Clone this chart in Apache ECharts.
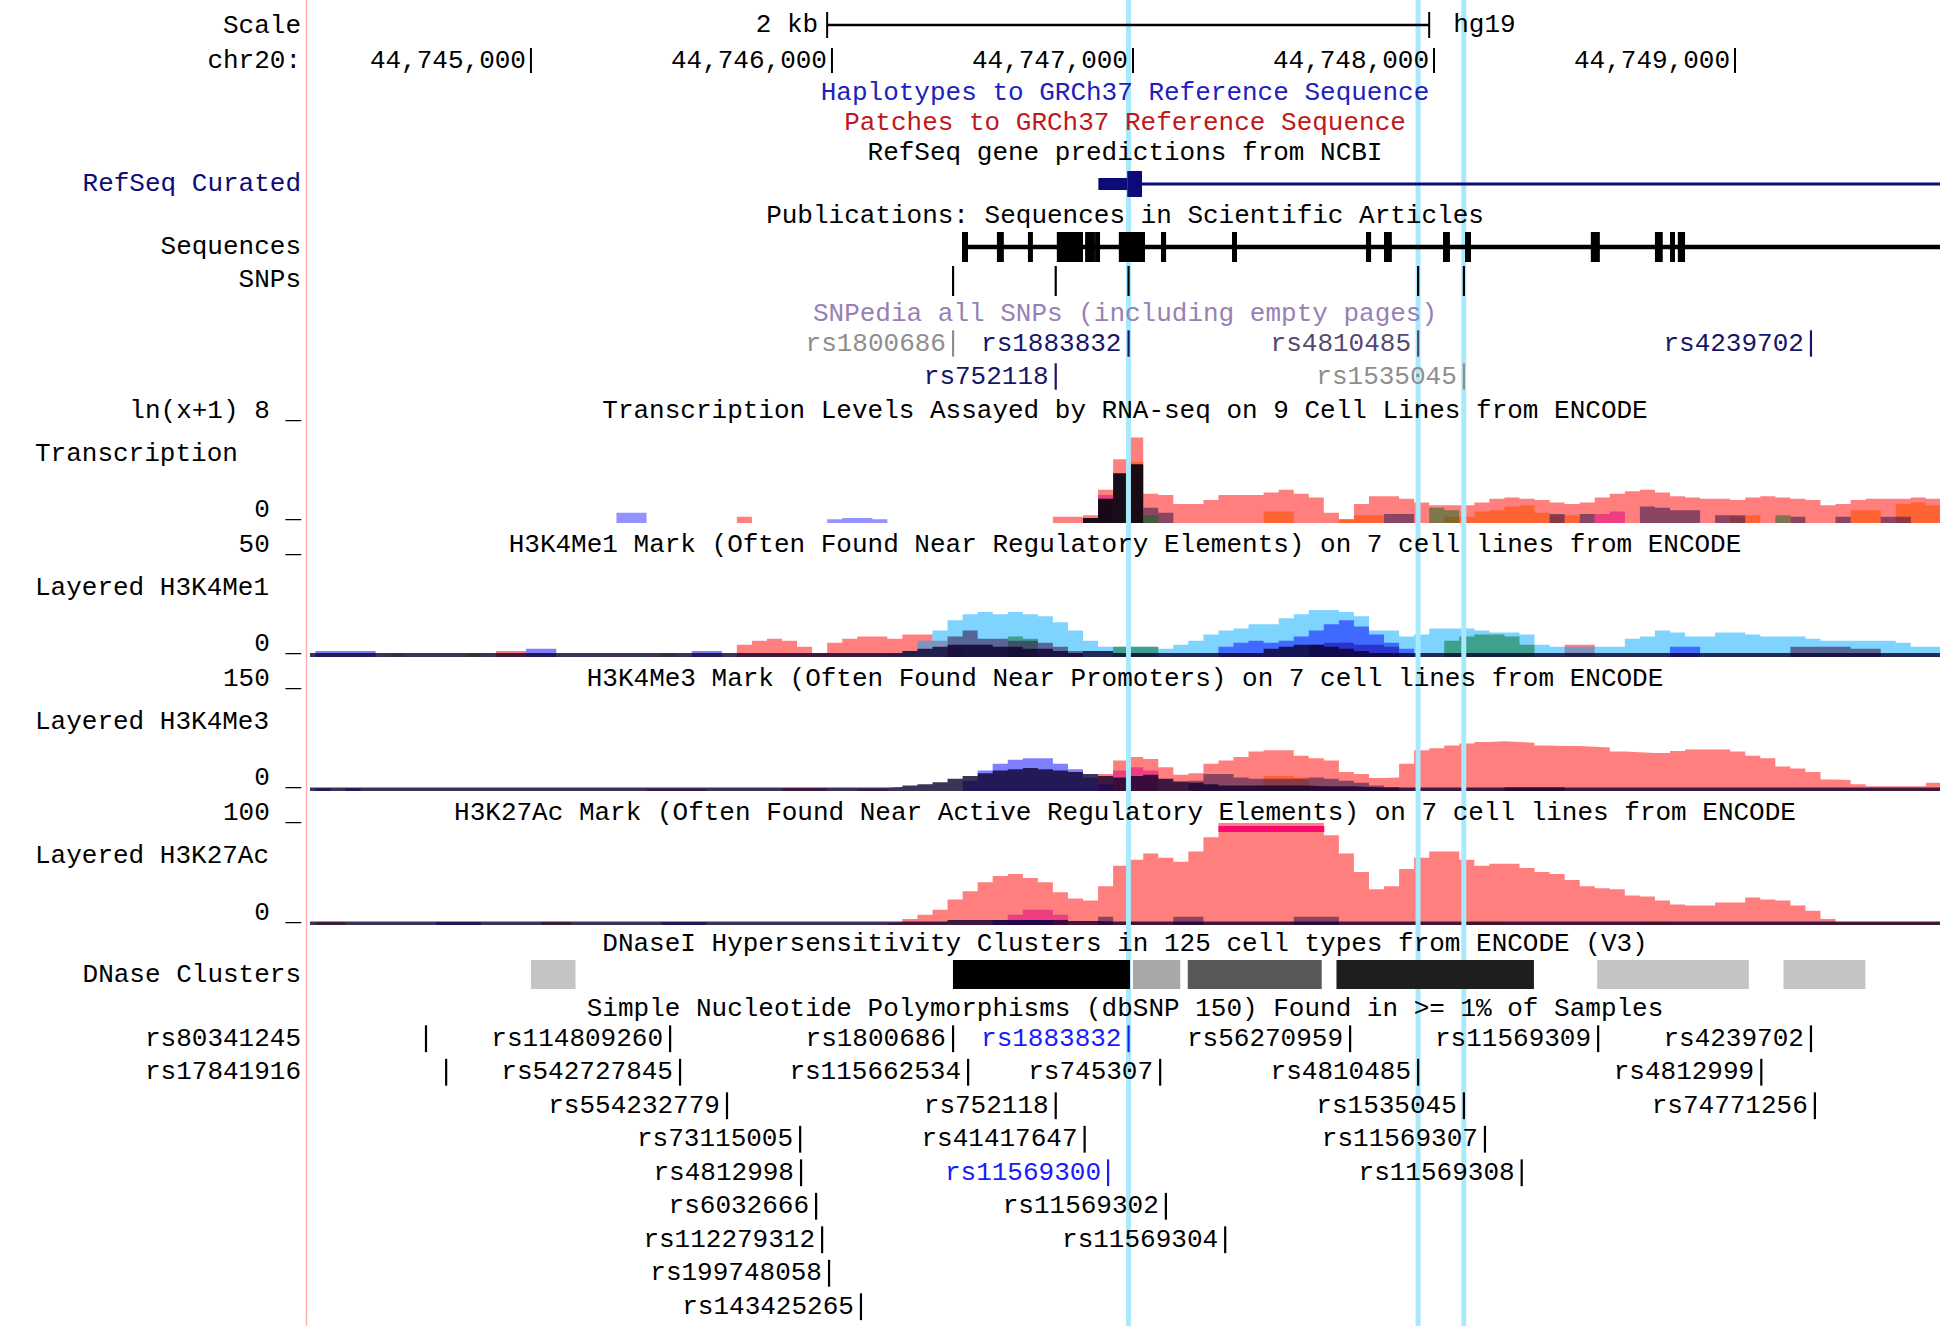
<!DOCTYPE html>
<html><head><meta charset="utf-8">
<script src="https://cdn.jsdelivr.net/npm/echarts@6/dist/echarts.min.js"></script>
<style>html,body{margin:0;padding:0;background:#fff}#c{width:1946px;height:1326px}</style>
</head><body><div id="c"></div>
<script>
// ===================== DATA =====================
const CHROM = 'chr20:', ASSEMBLY = 'hg19';
const VIEW_START = 44744266, VIEW_END = 44749681;
const RULER_TICKS = [44745000, 44746000, 44747000, 44748000, 44749000];
const SCALE_BAR = [44745984, 44747984];
const SCALE_LABEL = '2 kb';
const HIGHLIGHTS = [44746985, 44747947, 44748099];

// RefSeq Curated (CD40): txStart, cdsStart, exon1 end, txEnd
const GENE = [44746885, 44746981, 44747030, 44758384];

// Publications: sequences in articles
const PUB_SEQ_SPAN = [44746432, 44758384];
const PUB_SEQ_BLOCKS = [
  [44746432,44746452],[44746548,44746571],[44746651,44746664],[44746747,44746834],
  [44746841,44746854],[44746857,44746867],[44746874,44746884],[44746953,44747040],
  [44747093,44747110],[44747329,44747345],[44747774,44747791],[44747834,44747860],
  [44748030,44748053],[44748103,44748123],[44748521,44748551],[44748734,44748760],
  [44748784,44748797],[44748810,44748834]];
const PUB_SNPS = [44746402, 44746743, 44746985, 44747947, 44748099];

// SNPedia
const SNPEDIA_NAMES = ['rs1800686','rs1883832','rs4810485','rs4239702','rs752118','rs1535045'];
const SNPEDIA_POS   = [44746402, 44746985, 44747947, 44749252, 44746743, 44748099];
const SNPEDIA_ROW   = [0, 0, 0, 0, 1, 1];
const SNPEDIA_KIND  = ['empty','page','mid','page','page','empty'];

// Signal tracks: values per 50 bp bin
const BIN_START = 44744234, BIN_SIZE = 50, N_BINS = 109;
const TRACK_MAX = [8, 50, 150, 100];

const txRed = [
  0,0,0,0,0,0,0,0,0,0,
  0,0,0,0,0,0,0,0,0,0,
  0,0,0,0,0,0,0,0,0,0.5,
  0,0,0,0,0,0,0,0,0,0,
  0,0,0,0,0,0,0,0,0,0,
  0.5,0.5,0.6,2.6,5.0,6.7,2.3,2.2,1.5,1.5,
  1.8,2.2,2.2,2.2,2.4,2.6,2.3,2.0,0.8,0.3,
  1.5,2.1,2.1,1.9,1.6,1.4,1.4,1.4,1.6,1.9,
  2.0,1.9,1.8,1.6,1.5,1.6,2.0,2.3,2.5,2.6,
  2.4,2.1,2.0,1.9,1.9,1.8,2.0,2.1,2.0,1.9,
  1.8,1.4,1.5,1.8,1.9,1.9,1.9,2.0,1.9];
const txOrange = [[55,4.8],[64,0.9],[65,0.9],[69,0.3],[70,0.6],[71,0.6],[76,0.5],[77,0.5],[78,0.9],[79,1.0],[80,1.3],[81,1.4],[82,0.8],[83,0.6],[84,0.6],[95,0.5],[96,0.6],[103,1.0],[104,1.0],[106,1.5],[107,1.6],[108,1.4]];
const txMauve = [[56,1.2],[57,0.8],[72,0.7],[73,0.7],[83,0.7],[85,0.7],[89,1.3],[90,1.2],[91,1.0],[92,1.0],[94,0.6],[95,0.6],[99,0.5],[102,0.5],[105,0.5],[106,0.5]];
const txGreen = [[56,0.6],[75,1.2],[76,1.0],[98,0.6]];
const txMagenta = [[53,2.2],[86,0.7],[87,0.9]];
const txViolet = [[21,0.8],[22,0.8],[35,0.3],[36,0.4],[37,0.4],[38,0.3]];
const txDark = [[52,0.4],[53,1.9],[54,3.9],[55,4.6]];

const h1LightBlue = [
  0,0,0,0,0,0,0,0,0,0,
  0,0,0,0,0,0,0,0,0,0,
  0,0,0,0,0,0,0,0,0,0,
  0,0,0,0,0,0,0,0,1,2,
  3,8,13,18,21,22,21,22,21,20,
  17,13,8,5,5,5,5,4,6,8,
  11,13,14,16,16,19,21,23,23,22,
  20,13,13,10,11,14,14,14,13,12,
  12,11,6,5,5,5,5,5,9,10,
  13,12,10,10,12,12,11,10,10,10,
  9,8,8,8,8,8,7,5,5];
const h1Red = [[13,3],[14,3],[29,6],[30,8],[31,9],[32,8],[33,5],[34,2],[35,7],[36,9],[37,10],[38,10],[39,9],[40,11],[41,11],[42,8],[43,4],[84,6],[85,6]];
const h1Blue = [[1,3],[2,3],[3,3],[4,3],[15,4],[16,4],[26,3],[27,3],[61,5],[62,7],[63,8],[64,7],[65,8],[66,10],[67,13],[68,16],[69,18],[70,15],[71,11],[72,7],[73,4],[91,5],[92,5]];
const h1Mauve = [[43,10],[44,13],[45,9],[46,9],[47,8],[48,8],[49,7],[50,5],[51,3],[67,6],[68,7],[69,7],[70,6],[71,6],[72,5],[99,5],[100,5],[101,5],[102,5],[103,4],[104,4]];
const h1Green = [[47,10],[48,9],[54,5],[55,5],[56,5],[76,8],[77,10],[78,11],[79,11],[80,10],[81,6]];
const h1Yellow = [[6,2],[11,2],[24,2]];
const h1Floor = 2;
const h1Dark = [[40,3],[41,4],[42,5],[43,6],[44,6],[45,6],[46,5],[47,5],[48,4],[49,4],[50,3],[52,3],[53,3],[64,4],[65,5],[66,6],[67,6],[68,5],[69,4],[70,3]];

const h3Red = [
  0,0,0,0,0,0,0,0,0,0,
  0,0,0,0,0,0,0,0,0,0,
  0,0,0,3,3,3,3,0,0,0,
  0,0,4,4,4,0,0,3,3,0,
  0,0,0,0,0,0,0,0,0,0,
  0,0,0,25,45,50,47,35,24,26,
  40,45,50,58,60,60,52,48,45,28,
  25,19,20,40,60,63,67,70,72,73,
  72,71,67,66,66,65,64,58,57,56,
  56,59,61,61,61,58,52,48,36,33,
  28,17,16,10,7,7,7,7,12];
const h3Blue = [[1,4],[3,4],[44,15],[45,30],[46,40],[47,46],[48,48],[49,48],[50,40],[51,32],[52,20],[53,10]];
const h3Floor = 5;
const h3Dark = [[39,6],[40,8],[41,10],[42,13],[43,18],[44,22],[45,26],[46,30],[47,32],[48,34],[49,32],[50,30],[51,28],[52,25],[53,22],[54,20],[55,22],[56,24],[57,18],[58,14],[59,12],[60,10],[61,8],[62,8],[63,8],[64,8],[65,8],[66,8],[67,7],[68,7],[69,7],[70,6]];
const h3Mauve = [[59,15],[60,25],[61,25],[62,20],[63,18],[64,18],[65,18],[66,18],[67,20],[68,18],[69,15],[70,12],[71,8],[72,6],[80,6],[81,6],[82,6],[83,6]];
const h3Orange = [[64,22],[65,22],[66,20]];
const h3Magenta = [[54,30],[55,35],[56,30]];

const h27Red = [
  0,0,0,0,0,0,0,0,0,0,
  0,0,0,0,0,0,0,0,0,0,
  0,0,0,0,0,0,0,0,0,0,
  0,0,0,0,0,0,0,0,0,2,
  6,10,15,25,33,42,48,50,46,42,
  32,26,24,38,58,64,70,66,62,72,
  86,100,100,100,100,100,100,100,88,70,
  52,35,38,55,66,72,72,64,58,60,
  60,56,52,50,44,38,36,35,29,28,
  24,20,19,19,22,22,27,25,24,19,
  14,6,3,3,3,3,3,3,3];
const h27Magenta = [[47,10],[48,15],[49,15],[50,10]];
const h27Mauve = [[53,8],[58,8],[59,8],[66,8],[67,8],[68,8]];
const h27Orange = [[1,3],[2,3],[16,3],[17,3],[77,3],[78,3],[79,3],[89,3],[90,3]];
const h27Blue = [[9,3],[10,3],[11,3],[24,3],[25,3],[26,3],[46,5],[47,5],[48,5],[49,5]];
const h27Floor = 3.5;
const h27Dark = [[43,5],[44,5],[45,5],[46,5],[47,5],[48,5],[49,5],[50,5],[51,4],[52,4]];

// DNase clusters: start, end, score (0-1000)
const DNASE_START = [44745000, 44746402, 44747000, 44747182, 44747676, 44748542, 44749161];
const DNASE_END   = [44745148, 44746990, 44747157, 44747627, 44748332, 44749046, 44749433];
const DNASE_SCORE = [231, 1000, 341, 655, 882, 231, 231];

// dbSNP 150 common SNPs: name, position, packed row, class
const DBSNP_NAMES = ['rs80341245','rs114809260','rs1800686','rs1883832','rs56270959','rs11569309','rs4239702',
  'rs17841916','rs542727845','rs115662534','rs745307','rs4810485','rs4812999',
  'rs554232779','rs752118','rs1535045','rs74771256',
  'rs73115005','rs41417647','rs11569307',
  'rs4812998','rs11569300','rs11569308',
  'rs6032666','rs11569302',
  'rs112279312','rs11569304',
  'rs199748058',
  'rs143425265'];
const DBSNP_POS = [44744651,44745462,44746402,44746985,44747721,44748545,44749252,
  44744718,44745495,44746452,44747090,44747947,44749087,
  44745651,44746743,44748099,44749265,
  44745894,44746839,44748169,
  44745897,44746917,44748291,
  44745947,44747109,
  44745967,44747306,
  44745990,
  44746096];
const DBSNP_ROW = [0,0,0,0,0,0,0, 1,1,1,1,1,1, 2,2,2,2, 3,3,3, 4,4,4, 5,5, 6,6, 7, 8];
const DBSNP_CLASS = ['o','o','o','b','o','o','o', 'o','o','o','o','o','o', 'o','o','o','o', 'o','o','o', 'o','b','o', 'o','o', 'o','o', 'o', 'o'];

// ===================== STYLE / LAYOUT =====================
const FONT = '26px "Liberation Mono", "DejaVu Sans Mono", monospace';
const CHAR_W = 15.6;
const GRID_L = 310, GRID_R = 6, LABEL_RIGHT = 301, CENTER_X = 1125;
const NAVY = '#0c0c78';
const LAYER = {
  red: 'rgba(255,0,0,0.5)', lightBlue: 'rgba(0,168,255,0.5)', blue: 'rgba(0,0,255,0.5)',
  violet: 'rgba(40,40,255,0.5)', mauve: 'rgba(60,30,80,0.6)', green: 'rgba(0,110,30,0.5)',
  orange: 'rgba(255,80,0,0.6)', magenta: 'rgba(220,0,130,0.5)', yellow: 'rgba(255,200,0,0.6)',
  dark: 'rgba(12,0,45,0.8)', txDark: 'rgba(8,4,18,0.93)'
};
const SNPEDIA_COL = {empty: '#8e8e8e', page: '#15156a', mid: '#54486e'};
const DBSNP_COL = {o: '#000000', b: '#1a1aff'};

const GRIDS = [
  [12, 26],    // 0 scale bar
  [48, 25],    // 1 ruler
  [171, 26],   // 2 refseq
  [232, 30],   // 3 pub sequences
  [266, 30],   // 4 pub snps
  [327, 66],   // 5 snpedia
  [421, 102],  // 6 transcription
  [555, 102],  // 7 H3K4Me1
  [689, 102],  // 8 H3K4Me3
  [823, 102],  // 9 H3K27Ac
  [960, 29],   // 10 DNase
  [1022, 301.5], // 11 dbSNP
  [0, 1326]    // 12 highlight
];
const YRANGE = {5: [0, 2, true], 6: [0, TRACK_MAX[0]], 7: [0, TRACK_MAX[1]], 8: [0, TRACK_MAX[2]], 9: [0, TRACK_MAX[3]], 11: [0, 9, true]};

// ===================== BUILD =====================
function dense(pairs, floor) {
  const a = new Array(N_BINS).fill(floor || 0);
  pairs.forEach(p => { a[p[0]] = Math.max(p[1], floor || 0); });
  return a;
}
function areaSeries(vals, gi, color) {
  const data = vals.map((v, i) => [BIN_START + i * BIN_SIZE, v]);
  data.push([BIN_START + vals.length * BIN_SIZE, vals[vals.length - 1]]);
  return {type: 'line', xAxisIndex: gi, yAxisIndex: gi, data, step: 'end', symbol: 'none', showSymbol: false,
    lineStyle: {width: 0, opacity: 0}, areaStyle: {color, opacity: 1}, silent: true, z: 1, clip: true};
}
function txt(text, x, y, align, fill) {
  return {type: 'text', x, y, silent: true,
    style: {text, font: FONT, fill: fill || '#000', textAlign: align, textVerticalAlign: 'middle', align: align, verticalAlign: 'middle'}};
}
function clampX(cs, x) { return Math.max(cs.x, Math.min(cs.x + cs.width, x)); }
function custom(gi, data, renderItem, z) {
  return {type: 'custom', xAxisIndex: gi, yAxisIndex: gi, data, renderItem, silent: true, z: z || 3};
}
const fmt = n => n.toLocaleString('en-US');

const series = [];
// Signal tracks
[[txRed,'red'],[dense(txOrange),'orange'],[dense(txMauve),'mauve'],[dense(txGreen),'green'],[dense(txMagenta),'magenta'],[dense(txViolet),'violet'],[dense(txDark),'txDark']]
  .forEach(([v, c]) => series.push(areaSeries(v, 6, LAYER[c])));
[[dense(h1Red),'red'],[h1LightBlue,'lightBlue'],[dense(h1Green),'green'],[dense(h1Mauve),'mauve'],[dense(h1Blue),'blue'],[dense(h1Yellow),'yellow'],[dense(h1Dark, h1Floor),'dark']]
  .forEach(([v, c]) => series.push(areaSeries(v, 7, LAYER[c])));
[[h3Red,'red'],[dense(h3Magenta),'magenta'],[dense(h3Orange),'orange'],[dense(h3Mauve),'mauve'],[dense(h3Blue),'blue'],[dense(h3Dark, h3Floor),'dark']]
  .forEach(([v, c]) => series.push(areaSeries(v, 8, LAYER[c])));
[[h27Red,'red'],[dense(h27Magenta),'magenta'],[dense(h27Mauve),'mauve'],[dense(h27Orange),'orange'],[dense(h27Blue),'blue'],[dense(h27Dark, h27Floor),'dark']]
  .forEach(([v, c]) => series.push(areaSeries(v, 9, LAYER[c])));

// Clipped-value indicator on H3K27Ac
series.push(custom(9, h27Red.map((v, i) => [BIN_START + i * BIN_SIZE, v]), (p, api) => {
  if (api.value(1) < TRACK_MAX[3]) return null;
  const cs = p.coordSys;
  const x0 = clampX(cs, api.coord([api.value(0), 0])[0]);
  const x1 = clampX(cs, api.coord([api.value(0) + BIN_SIZE, 0])[0]);
  return {type: 'rect', shape: {x: x0, y: cs.y + 3, width: x1 - x0 + 0.5, height: 6}, style: {fill: '#fa0a6e'}};
}, 3));

// Highlights
series.push(custom(12, HIGHLIGHTS.map(h => [h, 0]), (p, api) => {
  const x = api.coord([api.value(0), 0])[0], cs = p.coordSys;
  return {type: 'rect', shape: {x: x - 2.5, y: cs.y, width: 5, height: cs.height}, style: {fill: '#a9e9fc'}};
}, 2));

// Scale bar
series.push(custom(0, [[SCALE_BAR[0], SCALE_BAR[1]]], (p, api) => {
  const cs = p.coordSys, x0 = api.coord([api.value(0), 0])[0], x1 = api.coord([api.value(1), 0])[0];
  const cy = cs.y + cs.height / 2;
  return {type: 'group', children: [
    {type: 'rect', shape: {x: x0, y: cy - 1.3, width: x1 - x0, height: 2.6}, style: {fill: '#000'}},
    {type: 'rect', shape: {x: x0 - 1, y: cs.y, width: 2, height: cs.height}, style: {fill: '#000'}},
    {type: 'rect', shape: {x: x1 - 1, y: cs.y, width: 2, height: cs.height}, style: {fill: '#000'}},
    txt(SCALE_LABEL, x0 - 9, cy, 'right'),
    txt(ASSEMBLY, x1 + 24, cy, 'left')
  ]};
}));

// Ruler
series.push(custom(1, RULER_TICKS.map(t => [t, 0]), (p, api) => {
  const cs = p.coordSys, x = api.coord([api.value(0), 0])[0];
  return {type: 'group', children: [
    {type: 'rect', shape: {x: x - 1, y: cs.y, width: 2, height: cs.height}, style: {fill: '#000'}},
    txt(fmt(api.value(0)), x - 5, cs.y + cs.height / 2, 'right')
  ]};
}));

// RefSeq gene
series.push(custom(2, [GENE], (p, api) => {
  const cs = p.coordSys, cy = cs.y + cs.height / 2;
  const X = i => clampX(cs, api.coord([api.value(i), 0])[0]);
  const a = X(0), b = X(1), c = X(2), d = X(3);
  return {type: 'group', children: [
    {type: 'rect', shape: {x: c, y: cy - 1.5, width: d - c, height: 3}, style: {fill: NAVY}},
    {type: 'rect', shape: {x: a, y: cy - 6, width: b - a, height: 12}, style: {fill: NAVY}},
    {type: 'rect', shape: {x: b, y: cs.y, width: c - b, height: cs.height}, style: {fill: NAVY}}
  ]};
}));

// Publication sequences
series.push(custom(3, [PUB_SEQ_SPAN], (p, api) => {
  const cs = p.coordSys, cy = cs.y + cs.height / 2;
  const a = clampX(cs, api.coord([api.value(0), 0])[0]), b = clampX(cs, api.coord([api.value(1), 0])[0]);
  return {type: 'rect', shape: {x: a, y: cy - 2.3, width: b - a, height: 4.6}, style: {fill: '#000'}};
}));
series.push(custom(3, PUB_SEQ_BLOCKS, (p, api) => {
  const cs = p.coordSys;
  const a = api.coord([api.value(0), 0])[0], b = api.coord([api.value(1), 0])[0];
  const w = Math.max(b - a, 5);
  return {type: 'rect', shape: {x: a, y: cs.y, width: w, height: cs.height}, style: {fill: '#000'}};
}));
// Publication SNPs
series.push(custom(4, PUB_SNPS.map(s => [s, 0]), (p, api) => {
  const cs = p.coordSys, x = api.coord([api.value(0), 0])[0];
  return {type: 'rect', shape: {x: x - 1, y: cs.y, width: 2.2, height: cs.height}, style: {fill: '#000'}};
}));

// Labeled tick rows (SNPedia, dbSNP)
function tickRow(gi, names, pos, rows, colorOf) {
  return custom(gi, pos.map((x, i) => [x, rows[i]]), (p, api) => {
    const i = p.dataIndex, cs = p.coordSys;
    const x = api.coord([api.value(0), 0])[0];
    const r = api.value(1);
    const yT = api.coord([api.value(0), r + 0.1])[1], yB = api.coord([api.value(0), r + 0.9])[1];
    const col = colorOf(i), name = names[i];
    let tx = x - 7;
    if (tx - name.length * CHAR_W < cs.x) tx = LABEL_RIGHT;
    return {type: 'group', children: [
      {type: 'rect', shape: {x: x - 1, y: yT, width: 2.2, height: yB - yT}, style: {fill: col}},
      txt(name, tx, (yT + yB) / 2, 'right', col)
    ]};
  });
}
series.push(tickRow(5, SNPEDIA_NAMES, SNPEDIA_POS, SNPEDIA_ROW, i => SNPEDIA_COL[SNPEDIA_KIND[i]]));
series.push(tickRow(11, DBSNP_NAMES, DBSNP_POS, DBSNP_ROW, i => DBSNP_COL[DBSNP_CLASS[i]]));

// DNase clusters
series.push(custom(10, DNASE_START.map((s, i) => [s, DNASE_END[i], DNASE_SCORE[i]]), (p, api) => {
  const cs = p.coordSys;
  const a = api.coord([api.value(0), 0])[0], b = api.coord([api.value(1), 0])[0];
  const g = Math.round(255 - api.value(2) / 1000 * 255);
  return {type: 'rect', shape: {x: a, y: cs.y, width: b - a, height: cs.height}, style: {fill: `rgb(${g},${g},${g})`}};
}));

// Axes & grids
const grid = GRIDS.map(([top, height]) => ({left: GRID_L, right: GRID_R, top, height, show: false}));
const xAxis = GRIDS.map((g, i) => ({type: 'value', gridIndex: i, min: VIEW_START, max: VIEW_END, show: false}));
const yAxis = GRIDS.map((g, i) => {
  const r = YRANGE[i] || [0, 1];
  return {type: 'value', gridIndex: i, min: r[0], max: r[1], inverse: !!r[2], show: false};
});

// Text labels
const TITLES = [
  ['Haplotypes to GRCh37 Reference Sequence', 93, '#2020c0'],
  ['Patches to GRCh37 Reference Sequence', 123, '#c01818'],
  ['RefSeq gene predictions from NCBI', 153, '#000'],
  ['Publications: Sequences in Scientific Articles', 216, '#000'],
  ['SNPedia all SNPs (including empty pages)', 314, '#9880b6'],
  ['Transcription Levels Assayed by RNA-seq on 9 Cell Lines from ENCODE', 411, '#000'],
  ['H3K4Me1 Mark (Often Found Near Regulatory Elements) on 7 cell lines from ENCODE', 545, '#000'],
  ['H3K4Me3 Mark (Often Found Near Promoters) on 7 cell lines from ENCODE', 679, '#000'],
  ['H3K27Ac Mark (Often Found Near Active Regulatory Elements) on 7 cell lines from ENCODE', 813, '#000'],
  ['DNaseI Hypersensitivity Clusters in 125 cell types from ENCODE (V3)', 944, '#000'],
  ['Simple Nucleotide Polymorphisms (dbSNP 150) Found in >= 1% of Samples', 1009, '#000']
];
const SIDE = [
  ['Scale', 26, 'r'], [CHROM, 61, 'r'], ['RefSeq Curated', 184, 'r', NAVY], ['Sequences', 247, 'r'], ['SNPs', 280, 'r'],
  ['ln(x+1) ' + TRACK_MAX[0] + ' _', 411, 'r'], ['Transcription', 454, 'l'], ['0 _', 510, 'r'],
  [TRACK_MAX[1] + ' _', 545, 'r'], ['Layered H3K4Me1', 588, 'l'], ['0 _', 644, 'r'],
  [TRACK_MAX[2] + ' _', 679, 'r'], ['Layered H3K4Me3', 722, 'l'], ['0 _', 778, 'r'],
  [TRACK_MAX[3] + ' _', 813, 'r'], ['Layered H3K27Ac', 856, 'l'], ['0 _', 913, 'r'],
  ['DNase Clusters', 975, 'r']
];
const elements = [
  {type: 'line', silent: true, z: 1, shape: {x1: 306.5, y1: 0, x2: 306.5, y2: 1326}, style: {stroke: '#ffb0b0', lineWidth: 1.5}}
];
TITLES.forEach(([t, y, c]) => elements.push(Object.assign(txt(t, CENTER_X, y, 'center', c), {z: 10})));
SIDE.forEach(([t, y, a, c]) => elements.push(Object.assign(a === 'r' ? txt(t, LABEL_RIGHT, y, 'right', c) : txt(t, 35, y, 'left', c), {z: 10})));

const chart = echarts.init(document.getElementById('c'), null, {renderer: 'svg', width: 1946, height: 1326});
chart.setOption({
  animation: false,
  backgroundColor: '#ffffff',
  grid, xAxis, yAxis, series,
  graphic: {elements}
});
</script>
</body></html>
